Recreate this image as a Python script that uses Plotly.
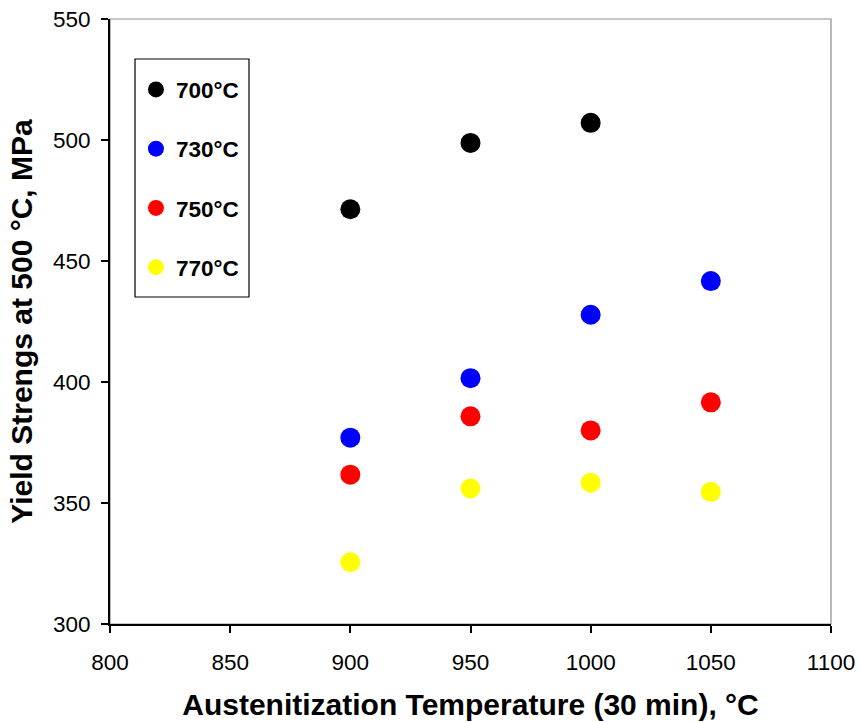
import plotly.graph_objects as go

# Austenitization temperatures (°C), 30 min hold
temps = [900, 950, 1000, 1050]

# Yield strength at 500 °C (MPa) for each tempering temperature
ys_700 = [471.4, 498.8, 507.1]
ys_730 = [377.0, 401.6, 427.8, 441.7]
ys_750 = [361.7, 385.8, 380.0, 391.6]
ys_770 = [325.5, 356.0, 358.4, 354.6]

series = [
    ("700°C", temps[:3], ys_700, "#000000"),
    ("730°C", temps, ys_730, "#0000ff"),
    ("750°C", temps, ys_750, "#ff0000"),
    ("770°C", temps, ys_770, "#ffff00"),
]

x_ticks = [800, 850, 900, 950, 1000, 1050, 1100]
y_ticks = [300, 350, 400, 450, 500, 550]

font_family = "Liberation Sans, Arial, sans-serif"

fig = go.Figure()
for i, (name, xs, ys, color) in enumerate(series):
    fig.add_trace(go.Scatter(
        x=xs, y=ys, mode="markers", name=name, legendgroup=f"g{i}",
        marker=dict(size=20, color=color, line=dict(width=0)),
    ))

# thin grey frame on the top and right edges of the plotting area
fig.add_shape(type="rect", xref="paper", yref="paper", x0=0, y0=0, x1=1, y1=1,
              line=dict(color="#8c8c8c", width=1.2), layer="below")
# legend frame
fig.add_shape(type="rect", xref="paper", yref="paper",
              x0=0.0347, x1=0.1928, y0=0.5405, y1=0.9339,
              line=dict(color="black", width=1.2), fillcolor="white", layer="below")

fig.update_layout(
    width=860, height=722,
    margin=dict(l=110, r=29, t=19, b=98, autoexpand=False),
    paper_bgcolor="white", plot_bgcolor="white",
    font=dict(family=font_family, color="black"),
    showlegend=True,
    legend=dict(
        x=0.036, y=0.9185, xanchor="left", yanchor="top",
        bgcolor="rgba(0,0,0,0)", borderwidth=0,
        font=dict(size=22.5, family=font_family, color="black", weight="bold"),
        tracegroupgap=27, itemwidth=30,
    ),
    xaxis=dict(
        range=[800, 1100], tickvals=x_ticks, ticktext=[str(v) for v in x_ticks],
        showgrid=False, zeroline=False, showline=True, linecolor="black", linewidth=2,
        ticks="outside", ticklen=7, tickwidth=1.5, tickcolor="black",
        tickfont=dict(size=22.5), ticklabelstandoff=10, automargin=False,
        title=dict(text="<b>Austenitization Temperature (30 min), °C</b>",
                   font=dict(size=30), standoff=20),
    ),
    yaxis=dict(
        range=[300, 550], tickvals=y_ticks, ticktext=[str(v) for v in y_ticks],
        showgrid=False, zeroline=False, showline=True, linecolor="black", linewidth=2,
        ticks="outside", ticklen=7, tickwidth=1.5, tickcolor="black",
        tickfont=dict(size=22.5), ticklabelstandoff=6, automargin=False,
        title=dict(text="<b>Yield Strengs at 500 °C, MPa</b>",
                   font=dict(size=30), standoff=11),
    ),
)

fig.write_html("out.html")
